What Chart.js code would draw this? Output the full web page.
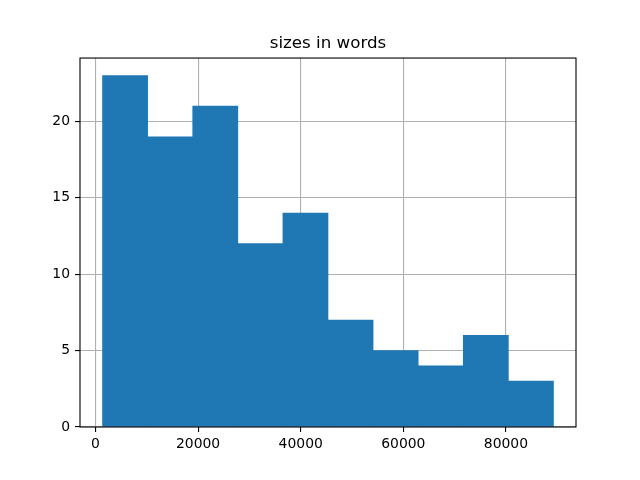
<!DOCTYPE html>
<html lang="en">

<head>
    <meta charset="UTF-8">
    <title>sizes in words</title>
    <script src="https://cdn.jsdelivr.net/npm/chart.js"></script>
    <style>
        body { margin: 0; background: #fff; }
        #wrap { width: 640px; height: 480px; }
    </style>
</head>

<body>
    <div id="wrap"><canvas id="myChart" width="640" height="480"></canvas></div>

    <script>
        // histogram bins (left edges) and counts
        const binEdges = [1370, 10160, 18950, 27740, 36530, 45320, 54110, 62900, 71690, 80480, 89270];
        const counts = [23, 19, 21, 12, 14, 7, 5, 4, 6, 3];
        const xTicks = [0, 20000, 40000, 60000, 80000];
        const yTicks = [0, 5, 10, 15, 20];

        const points = counts.map((c, i) => ({ x: (binEdges[i] + binEdges[i + 1]) / 2, y: c }))
        const span = binEdges[binEdges.length - 1] - binEdges[0]

        const font = { family: 'DejaVu Sans', size: 13.9 }

        // black frame round the plot area, like matplotlib spines
        const frame = {
            id: 'frame',
            afterDraw(chart) {
                const a = chart.chartArea
                const ctx = chart.ctx
                ctx.save()
                ctx.strokeStyle = '#000'
                ctx.lineWidth = 1.1
                ctx.strokeRect(a.left, a.top, a.right - a.left, a.bottom - a.top)
                ctx.restore()
            }
        }

        const config = {
            type: 'bar',
            data: {
                datasets: [{
                    label: 'sizes in words',
                    data: points,
                    backgroundColor: '#1f77b4',
                    borderWidth: 0,
                    barPercentage: 1,
                    categoryPercentage: 1,
                }]
            },
            options: {
                responsive: false,
                animation: false,
                layout: { padding: { left: 40, right: 24, top: 0, bottom: 0 } },
                plugins: {
                    legend: { display: false },
                    tooltip: { enabled: false },
                    title: {
                        display: true,
                        text: 'sizes in words',
                        color: '#000',
                        font: { family: 'DejaVu Sans', size: 16.7, weight: 'normal' },
                        padding: { top: 34, bottom: 4 },
                    }
                },
                scales: {
                    x: {
                        type: 'linear',
                        offset: false,
                        min: binEdges[0] - 0.05 * span,
                        max: binEdges[binEdges.length - 1] + 0.05 * span,
                        z: 1,
                        afterBuildTicks: s => { s.ticks = xTicks.map(v => ({ value: v })) },
                        afterFit: s => { s.height = 53 },
                        grid: { offset: false, color: '#b0b0b0', lineWidth: 1.1, tickColor: '#000', tickLength: 5, tickWidth: 1.1 },
                        border: { display: false },
                        ticks: { color: '#000', font: font, padding: 4, maxRotation: 0, callback: v => String(v) },
                    },
                    y: {
                        min: 0,
                        max: 24.15,
                        z: 1,
                        afterBuildTicks: s => { s.ticks = yTicks.map(v => ({ value: v })) },
                        afterFit: s => { s.width = 40 },
                        grid: { color: '#b0b0b0', lineWidth: 1.1, tickColor: '#000', tickLength: 5, tickWidth: 1.1 },
                        border: { display: false },
                        ticks: { color: '#000', font: font, padding: 5, callback: v => String(v) },
                    },
                    // empty right-hand box so the plot area ends where matplotlib's does
                    y2: {
                        position: 'right',
                        min: 0,
                        max: 1,
                        afterFit: s => { s.width = 40 },
                        grid: { display: false },
                        border: { display: false },
                        ticks: { display: false },
                    }
                }
            },
            plugins: [frame]
        };
        const myChart = new Chart(document.getElementById('myChart'), config);
    </script>
</body>

</html>
